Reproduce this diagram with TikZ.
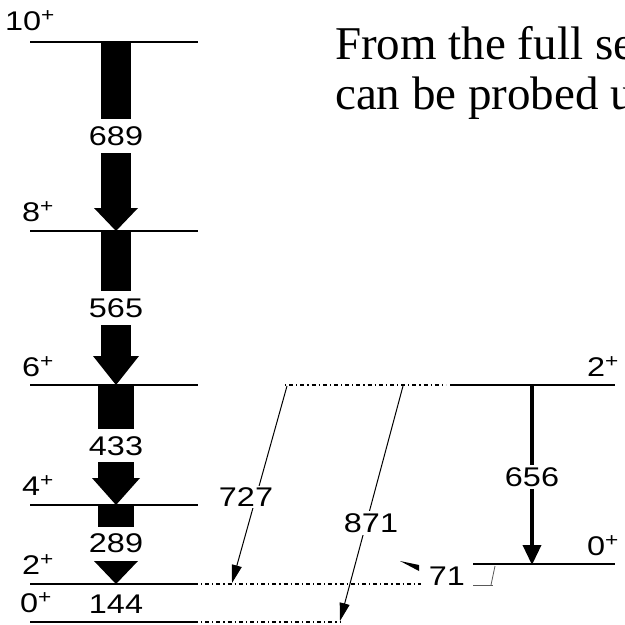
\documentclass[tikz,border=0pt]{standalone}
\usepackage{fontspec}
\setmainfont{Liberation Serif}
\newfontfamily\labfont[FakeStretch=1.2]{Liberation Sans}
\usetikzlibrary{arrows.meta}
\begin{document}
\begin{tikzpicture}[x=1pt,y=-1pt,
  level/.style={line width=1.3pt},
  dotlevel/.style={line width=1.2pt, dash pattern=on 1.2pt off 3pt on 4pt off 3pt},
  lab/.style={font=\labfont\fontsize{27}{29}\selectfont, inner sep=1pt},
  whitelab/.style={lab, fill=white, inner sep=2pt},
  spin/.style={font=\labfont\fontsize{27}{29}\selectfont, inner sep=0pt},
  thinarrow/.style={line width=1pt, -{Triangle[length=18pt,width=10pt]}},
  thickarrow/.style={line width=3.5pt, -{Triangle[length=20pt,width=18pt]}, shorten >=-1pt},
  fat/.style={fill=black},
  prose/.style={font=\fontsize{47}{52}\selectfont, anchor=base west, inner sep=0pt}
]
\useasboundingbox[fill=white] (0,0) rectangle (625,625);

% ---- level coordinates (left band)
\coordinate (L10a) at (30,42);  \coordinate (L10b) at (198,42);
\coordinate (L8a)  at (30,231); \coordinate (L8b)  at (198,231);
\coordinate (L6a)  at (30,385); \coordinate (L6b)  at (198,385);
\coordinate (L4a)  at (30,505); \coordinate (L4b)  at (198,505);
\coordinate (L2a)  at (30,584); \coordinate (L2b)  at (198,584);
\coordinate (L0a)  at (30,622); \coordinate (L0b)  at (198,622);
% ---- right band
\coordinate (R2a) at (450,385); \coordinate (R2b) at (615,385);
\coordinate (R0a) at (473,564); \coordinate (R0b) at (615,564);

% ---- fat arrows of the band
\fill[fat] (101,42) rectangle (131,119);
\fill[fat] (101,153) rectangle (131,208);
\fill[fat] (94,208) -- (138,208) -- (116,231) -- cycle;
\fill[fat] (101,231) rectangle (131,291);
\fill[fat] (101,325) rectangle (131,356);
\fill[fat] (93,356) -- (139,356) -- (116,385) -- cycle;
\fill[fat] (98,385) rectangle (134,429);
\fill[fat] (98,462) rectangle (134,478);
\fill[fat] (92,478) -- (140,478) -- (116,505) -- cycle;
\fill[fat] (98,505) rectangle (134,527);
\fill[fat] (94,561) -- (138,561) -- (116,584) -- cycle;

% ---- levels
\draw[level] (L10a) -- (L10b);
\draw[level] (L8a) -- (L8b);
\draw[level] (L6a) -- (L6b);
\draw[level] (L4a) -- (L4b);
\draw[level] (L2a) -- (L2b);
\draw[level] (L0a) -- (L0b);
\draw[level] (R2a) -- (R2b);
\draw[level] (R0a) -- (R0b);

% ---- dotted continuations
\coordinate (D6a) at (285,385); \coordinate (D6b) at (446,385);
\coordinate (D2a) at (201,584); \coordinate (D2b) at (421,584);
\coordinate (D0a) at (201,622); \coordinate (D0b) at (341,622);
\draw[dotlevel] (D6a) -- (D6b);
\draw[dotlevel] (D2a) -- (D2b);
\draw[dotlevel] (D0a) -- (D0b);

% ---- band labels
\node[lab] (e689) at (116,136) {689};
\node[lab] (e565) at (116,308) {565};
\node[lab] (e433) at (116,446) {433};
\node[lab] (e289) at (116,543) {289};
\node[lab] (e144) at (116,604) {144};

% ---- spins
\node[spin] (s10) at (30,21)  {10\textsuperscript{+}};
\node[spin] (s8)  at (38,212) {8\textsuperscript{+}};
\node[spin] (s6)  at (38,367) {6\textsuperscript{+}};
\node[spin] (s4)  at (38,486) {4\textsuperscript{+}};
\node[spin] (s2)  at (38,565) {2\textsuperscript{+}};
\node[spin] (s0)  at (36,603) {0\textsuperscript{+}};
\node[spin] (r2)  at (603,367) {2\textsuperscript{+}};
\node[spin] (r0)  at (603,546) {0\textsuperscript{+}};

% ---- interband transitions
\coordinate (t727a) at (287,386); \coordinate (t727b) at (232,583);
\coordinate (t871a) at (403,386); \coordinate (t871b) at (340,621);
\coordinate (t656a) at (532,385); \coordinate (t656b) at (532,564);
\draw[thinarrow] (t727a) -- (t727b);
\draw[thinarrow] (t871a) -- (t871b);
\draw[thickarrow] (t656a) -- (t656b);
\node[whitelab] (e727) at (246,497) {727};
\node[whitelab] (e871) at (371,523) {871};
\node[whitelab] (e656) at (532,477) {656};

% ---- 71 keV E0 marker
\node[lab] (e71) at (447,576) {71};
\fill (400,561) -- (419,565) -- (419,571) -- cycle;
\coordinate (k1) at (473,585); \coordinate (k2) at (493,585);
\coordinate (k3) at (495,566); \coordinate (k4) at (491,585);
\draw[gray!70!black, line width=0.8pt] (k1) -- (k2);
\draw[gray!70!black, line width=0.8pt] (k3) -- (k4);

% ---- prose (cut off by the right edge, as in the reference)
\node[prose] (p1) at (335,59)  {From the full se};
\node[prose] (p2) at (335,109) {can be probed u};
\end{tikzpicture}
\end{document}
